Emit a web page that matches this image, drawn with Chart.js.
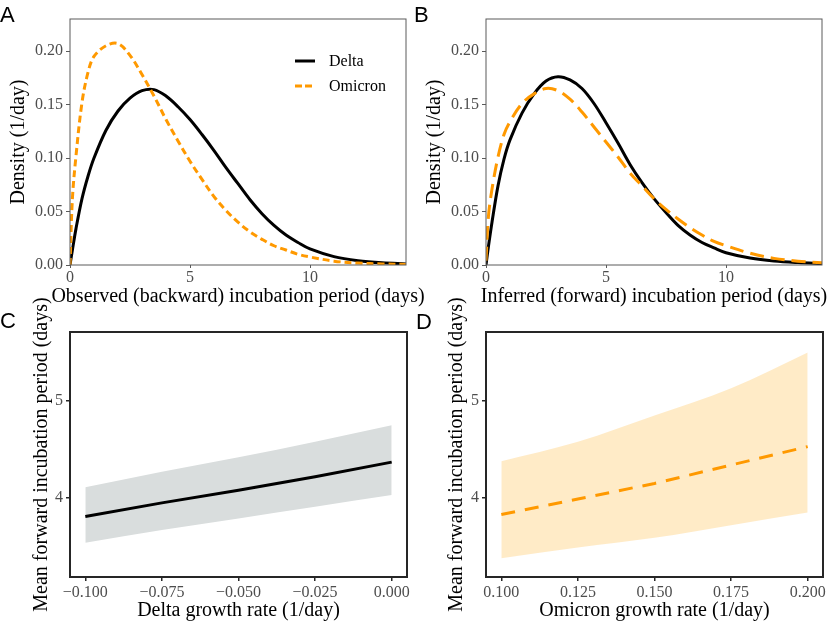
<!DOCTYPE html>
<html>
<head>
<meta charset="utf-8">
<script src="https://cdn.jsdelivr.net/npm/chart.js@4.4.1/dist/chart.umd.min.js"></script>
<style>
  body { margin: 0; background: #fff; }
  #page { position: relative; width: 830px; height: 625px; overflow: hidden; background: #fff; }
  canvas { position: absolute; }
  .tag { position: absolute; font-family: 'Liberation Sans', Arial, sans-serif; font-size: 22px; line-height: 22px; color: #000; }
  .legend { position: absolute; font-family: 'Liberation Serif', 'Times New Roman', serif; font-size: 16px; color: #000; }
  .legend .row { height: 25px; display: flex; align-items: center; }
  .legend svg { margin-right: 14px; }
</style>
</head>
<body>
<div id="page">
  <canvas id="panel-a" width="440" height="310" style="left:0;top:0"></canvas>
  <canvas id="panel-b" width="415" height="310" style="left:415px;top:0"></canvas>
  <canvas id="panel-c" width="415" height="340" style="left:0;top:285px"></canvas>
  <canvas id="panel-d" width="415" height="340" style="left:415px;top:285px"></canvas>

  <div class="tag" style="left:0;top:4px">A</div>
  <div class="tag" style="left:414px;top:4px">B</div>
  <div class="tag" style="left:0;top:310px">C</div>
  <div class="tag" style="left:416px;top:311px">D</div>

  <div class="legend" style="left:295px;top:48px">
    <div class="row"><svg width="20" height="6"><line x1="0" y1="3" x2="20" y2="3" stroke="#000" stroke-width="3"/></svg><span>Delta</span></div>
    <div class="row"><svg width="20" height="6"><line x1="0" y1="3" x2="20" y2="3" stroke="#ff9900" stroke-width="3" stroke-dasharray="7 3"/></svg><span>Omicron</span></div>
  </div>
</div>

<script>
  // --- datos ---

  // días (paneles A y B)
  const dias = [0, 0.1, 0.25, 0.5, 0.75, 1, 1.5, 2, 2.5, 3, 3.5, 4, 4.5, 5, 5.5, 6, 6.5, 7, 7.5, 8, 8.5, 9, 9.5, 10, 11, 12, 13, 14];

  // A - periodo observado (backward)
  const deltaA = [0, 0.014, 0.034, 0.062, 0.083, 0.100, 0.126, 0.144, 0.156, 0.163, 0.164, 0.158, 0.148, 0.136, 0.122, 0.107, 0.091, 0.076, 0.061, 0.048, 0.037, 0.028, 0.021, 0.015, 0.0078, 0.0040, 0.0020, 0.0010];
  const omicronA = [0, 0.062, 0.102, 0.152, 0.180, 0.195, 0.205, 0.207, 0.196, 0.178, 0.158, 0.136, 0.116, 0.097, 0.080, 0.064, 0.051, 0.040, 0.031, 0.024, 0.018, 0.014, 0.010, 0.0075, 0.0036, 0.0018, 0.0010, 0.0005];

  // B - periodo inferido (forward)
  const deltaB = [0, 0.017, 0.040, 0.074, 0.099, 0.117, 0.142, 0.160, 0.172, 0.176, 0.173, 0.165, 0.151, 0.133, 0.114, 0.094, 0.077, 0.062, 0.049, 0.037, 0.028, 0.021, 0.016, 0.0115, 0.0065, 0.0037, 0.0023, 0.0015];
  const omicronB = [0.004, 0.045, 0.071, 0.101, 0.122, 0.134, 0.151, 0.160, 0.165, 0.163, 0.155, 0.143, 0.129, 0.115, 0.101, 0.086, 0.074, 0.062, 0.052, 0.043, 0.035, 0.028, 0.022, 0.018, 0.011, 0.0062, 0.0036, 0.0020];

  // C - Delta: tasa de crecimiento vs media
  const tasaDelta = [-0.1, -0.075, -0.05, -0.025, 0];
  const mediaDelta = [3.81, 3.95, 4.08, 4.22, 4.37];
  const superiorDelta = [4.11, 4.27, 4.42, 4.58, 4.75];
  const inferiorDelta = [3.54, 3.67, 3.79, 3.91, 4.03];

  // D - Omicron
  const tasaOmicron = [0.1, 0.125, 0.15, 0.175, 0.2];
  const mediaOmicron = [3.83, 3.99, 4.15, 4.34, 4.53];
  const superiorOmicron = [4.38, 4.58, 4.85, 5.13, 5.50];
  const inferiorOmicron = [3.38, 3.49, 3.59, 3.72, 3.85];

  // ticks
  const ticksDensidad = [0, 0.05, 0.10, 0.15, 0.20];
  const etiquetasDensidad = ['0.00', '0.05', '0.10', '0.15', '0.20'];
  const ticksDias = [0, 5, 10];
  const etiquetasDias = ['0', '5', '10'];
  const ticksMedia = [4, 5];
  const etiquetasMedia = ['4', '5'];
  const ticksTasaDelta = [-0.1, -0.075, -0.05, -0.025, 0];
  const etiquetasTasaDelta = ['\u22120.100', '\u22120.075', '\u22120.050', '\u22120.025', '0.000'];
  const ticksTasaOmicron = [0.1, 0.125, 0.15, 0.175, 0.2];
  const etiquetasTasaOmicron = ['0.100', '0.125', '0.150', '0.175', '0.200'];

  const NARANJA = '#ff9900';
  const SERIF = "'Liberation Serif', 'Times New Roman', serif";

  const puntos = (xs, ys) => xs.map((x, i) => ({ x: x, y: ys[i] }));

  // marco alrededor del área del gráfico (como ggplot)
  const marco = {
    id: 'marco',
    afterDatasetsDraw(chart, args, opts) {
      const a = chart.chartArea;
      const c = chart.ctx;
      c.save();
      c.strokeStyle = opts.color;
      c.lineWidth = opts.width;
      c.strokeRect(a.left, a.top, a.right - a.left, a.bottom - a.top);
      c.restore();
    }
  };

  // título del eje x sin maxWidth (el de Chart.js se comprime al ancho del eje)
  const tituloX = {
    id: 'tituloX',
    afterDraw(chart, args, opts) {
      const a = chart.chartArea;
      const c = chart.ctx;
      c.save();
      c.font = '20px ' + SERIF;
      c.fillStyle = '#000';
      c.textAlign = 'center';
      c.textBaseline = 'middle';
      c.fillText(opts.text, (a.left + a.right) / 2, opts.y);
      c.restore();
    }
  };

  function eje(cfg) {
    return {
      type: 'linear',
      position: cfg.position,
      min: cfg.min,
      max: cfg.max,
      afterBuildTicks: s => { s.ticks = cfg.ticks.map(v => ({ value: v })); },
      afterFit: s => {
        if (cfg.position === 'left') s.width = cfg.size; else s.height = cfg.size;
      },
      grid: { drawOnChartArea: false, drawTicks: true, tickLength: cfg.tickLength, color: cfg.color, lineWidth: cfg.tickWidth },
      border: { display: false },
      ticks: {
        autoSkip: false, maxRotation: 0, padding: cfg.pad, color: '#4d4d4d',
        font: { family: SERIF, size: 16 },
        callback: (v, i) => cfg.labels[i]
      },
      title: {
        display: !!cfg.title, text: cfg.title, color: '#000',
        font: { family: SERIF, size: 20 },
        padding: cfg.titlePad
      }
    };
  }

  function crearPanel(id, datasets, p) {
    return new Chart(document.getElementById(id), {
      type: 'line',
      data: { datasets: datasets },
      options: {
        responsive: false,
        animation: false,
        devicePixelRatio: 1,
        layout: { padding: p.padding },
        elements: { point: { radius: 0 } },
        plugins: {
          legend: { display: false },
          tooltip: { enabled: false },
          marco: { color: p.frameColor, width: p.frameWidth },
          tituloX: { text: p.xTitle, y: p.xTitleY }
        },
        scales: { x: p.x, y: p.y }
      },
      plugins: [marco, tituloX]
    });
  }

  // Panel A
  crearPanel('panel-a', [
    { data: puntos(dias, omicronA), borderColor: NARANJA, borderWidth: 3, borderDash: [7, 4], tension: 0.35, fill: false },
    { data: puntos(dias, deltaA), borderColor: '#000', borderWidth: 3, tension: 0.35, fill: false }
  ], {
    padding: { top: 19, right: 34, left: 0, bottom: 0 },
    frameColor: '#5a5a5a', frameWidth: 1,
    xTitle: 'Observed (backward) incubation period (days)', xTitleY: 297,
    x: eje({ position: 'bottom', min: 0, max: 14, ticks: ticksDias, labels: etiquetasDias, size: 45, tickLength: 3, color: '#5a5a5a', tickWidth: 1, pad: 0 }),
    y: eje({ position: 'left', min: 0, max: 0.23, ticks: ticksDensidad, labels: etiquetasDensidad, size: 70, tickLength: 4, color: '#5a5a5a', tickWidth: 1, pad: 3, title: 'Density (1/day)', titlePad: { top: 6.5, bottom: 0 } })
  });

  // Panel B
  crearPanel('panel-b', [
    { data: puntos(dias, omicronB), borderColor: NARANJA, borderWidth: 3, borderDash: [14, 7], tension: 0.35, fill: false },
    { data: puntos(dias, deltaB), borderColor: '#000', borderWidth: 3, tension: 0.35, fill: false }
  ], {
    padding: { top: 19, right: 8, left: 0, bottom: 0 },
    frameColor: '#5a5a5a', frameWidth: 1,
    xTitle: 'Inferred (forward) incubation period (days)', xTitleY: 297,
    x: eje({ position: 'bottom', min: 0, max: 14, ticks: ticksDias, labels: etiquetasDias, size: 45, tickLength: 3, color: '#5a5a5a', tickWidth: 1, pad: 0 }),
    y: eje({ position: 'left', min: 0, max: 0.23, ticks: ticksDensidad, labels: etiquetasDensidad, size: 71, tickLength: 4, color: '#5a5a5a', tickWidth: 1, pad: 3, title: 'Density (1/day)', titlePad: { top: 8, bottom: 0 } })
  });

  // Panel C
  crearPanel('panel-c', [
    { data: puntos(tasaDelta, mediaDelta), borderColor: '#000', borderWidth: 3, fill: false },
    { data: puntos(tasaDelta, superiorDelta), borderWidth: 0, borderColor: 'rgba(0,0,0,0)', backgroundColor: '#d9dddd', cubicInterpolationMode: 'monotone', fill: '+1' },
    { data: puntos(tasaDelta, inferiorDelta), borderWidth: 0, borderColor: 'rgba(0,0,0,0)', cubicInterpolationMode: 'monotone', fill: false }
  ], {
    padding: { top: 47, right: 8, left: 0, bottom: 0 },
    frameColor: '#262626', frameWidth: 2,
    xTitle: 'Delta growth rate (1/day)', xTitleY: 326,
    x: eje({ position: 'bottom', min: -0.105, max: 0.005, ticks: ticksTasaDelta, labels: etiquetasTasaDelta, size: 48, tickLength: 4, color: '#262626', tickWidth: 1.5, pad: 2 }),
    y: eje({ position: 'left', min: 3.186, max: 5.711, ticks: ticksMedia, labels: etiquetasMedia, size: 70, tickLength: 4, color: '#262626', tickWidth: 1.5, pad: 3, title: 'Mean forward incubation period (days)', titlePad: { top: 30, bottom: 0 } })
  });

  // Panel D
  crearPanel('panel-d', [
    { data: puntos(tasaOmicron, mediaOmicron), borderColor: NARANJA, borderWidth: 3, borderDash: [14, 10], fill: false },
    { data: puntos(tasaOmicron, superiorOmicron), borderWidth: 0, borderColor: 'rgba(0,0,0,0)', backgroundColor: 'rgba(255,165,0,0.22)', cubicInterpolationMode: 'monotone', fill: '+1' },
    { data: puntos(tasaOmicron, inferiorOmicron), borderWidth: 0, borderColor: 'rgba(0,0,0,0)', cubicInterpolationMode: 'monotone', fill: false }
  ], {
    padding: { top: 47, right: 7, left: 0, bottom: 0 },
    frameColor: '#262626', frameWidth: 2,
    xTitle: 'Omicron growth rate (1/day)', xTitleY: 326,
    x: eje({ position: 'bottom', min: 0.095, max: 0.205, ticks: ticksTasaOmicron, labels: etiquetasTasaOmicron, size: 48, tickLength: 4, color: '#262626', tickWidth: 1.5, pad: 2 }),
    y: eje({ position: 'left', min: 3.186, max: 5.711, ticks: ticksMedia, labels: etiquetasMedia, size: 71, tickLength: 4, color: '#262626', tickWidth: 1.5, pad: 3, title: 'Mean forward incubation period (days)', titlePad: { top: 30, bottom: 0 } })
  });
</script>
</body>
</html>
